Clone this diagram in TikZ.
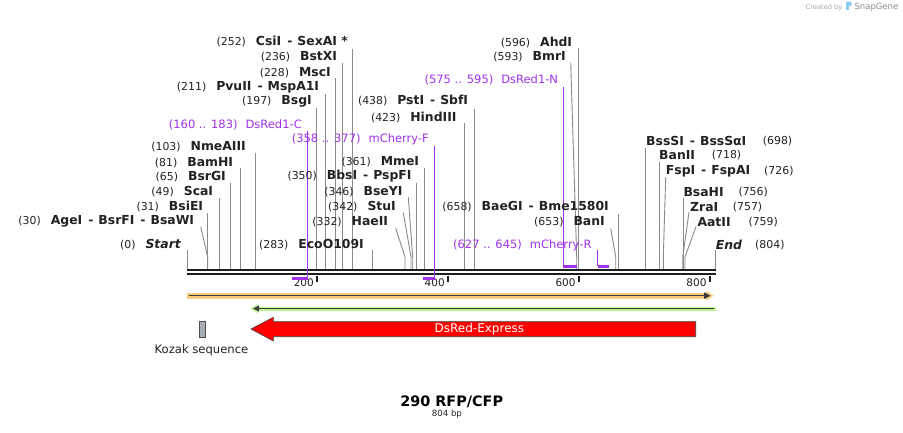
\documentclass[tikz,border=0pt]{standalone}
\usepackage{fontspec}
\setmainfont{DejaVu Sans}
\definecolor{cutgray}{HTML}{8A8A8A}
\definecolor{primc}{RGB}{160,50,235}
\definecolor{numc}{HTML}{222222}
\definecolor{rulerc}{HTML}{1E1E1E}
\definecolor{orangeb}{HTML}{F9CC80}
\definecolor{greenb}{HTML}{BEF28C}
\definecolor{darkln}{HTML}{3C3C3C}
\definecolor{kozakc}{HTML}{A9ADB5}
\definecolor{wmblue}{HTML}{8CCBF0}
\newcommand\mydsh{\hspace{6pt}-\hspace{5pt}}
\newcommand\mynum[1]{{\fontsize{10.9}{13}\selectfont #1}}
\newcommand\mynm[1]{{\fontsize{12.4}{14}\selectfont\bfseries #1}}
\newcommand\mysite[5]{\node[lab, anchor=east] (#1) at (#2,#3) {\mynum{#4}\hspace{10pt}\mynm{#5}};}
\newcommand\myplab[5]{\node[plab, anchor=east] (#1) at (#2,#3) {#4\hspace{8pt}#5};}
\newcommand\myrsite[6]{\node[lab, anchor=west] (#1) at (#2,#3) {\mynm{#4}};\node[lab, anchor=west] (#1n) at (#5,#3) {\mynum{#6}};}
\newcommand\myv[3]{\coordinate (#1t) at (#2,#3);\coordinate (#1b) at (#2,269.5);\draw[cut] (#1t) -- (#1b);}
\newcommand\mya[4]{\coordinate (#1t) at (#2,#3);\coordinate (#1m) at (#4,257);\coordinate (#1b) at (#4,269.5);\draw[cut] (#1t) -- (#1m) -- (#1b);}
\tikzset{
  cut/.style={draw=cutgray, line width=0.9pt},
  lab/.style={inner sep=0pt, text=numc},
  plab/.style={inner sep=0pt, text=primc, font=\fontsize{11.5}{13}\selectfont},
  primln/.style={draw=primc, line width=1pt},
  primbar/.style={draw=primc, line width=2.5pt},
  rul/.style={draw=rulerc, line width=2.3pt},
  tick/.style={draw=rulerc, line width=2pt},
  ticklab/.style={inner sep=0pt, text=numc, font=\fontsize{10.5}{12}\selectfont, anchor=east},
}
\begin{document}
\begin{tikzpicture}[x=1pt,y=-1pt]
\useasboundingbox (0,0) rectangle (903,432);
\fill[white] (0,0) rectangle (903,432);

% watermark
\node[inner sep=0pt, anchor=west, text=black!35, font=\fontsize{6.6}{8}\selectfont] (wm1) at (805.7,7.3) {Created by};
\fill[wmblue, rounded corners=1pt] (846,1.7) rectangle (851.7,6) ;
\fill[wmblue] (846,1.7) rectangle (849,10);
\node[inner sep=0pt, anchor=west, text=black!45, font=\fontsize{8.5}{10}\selectfont] (wm2) at (854.3,7.3) {SnapGene};

% cut-site lines
\myv{st}{187.7}{250}
\myv{bsie}{207.7}{213}
\myv{sca}{219.3}{198}
\myv{bsrg}{230.7}{182.7}
\myv{bam}{240.7}{168.3}
\myv{nme}{255.7}{152.7}
\myv{bsg}{316}{108.3}
\myv{pvu}{325}{94.3}
\myv{msc}{335.5}{77.7}
\myv{bstx}{342.3}{63.3}
\myv{csi}{352.3}{49}
\myv{eco}{372.3}{250}
\myv{bbs}{416.7}{182.7}
\myv{mme}{424.3}{168.3}
\myv{hind}{464.3}{123.3}
\myv{pst}{474.3}{109}
\myv{ahd}{578.3}{48.3}
\myv{bae}{618.3}{214}
\myv{bss}{645.7}{148.3}
\myv{banii}{659}{161.7}
\myv{bsah}{683.3}{198.3}
\myv{en}{715.7}{250}
\mya{age}{200.7}{226.7}{207.7}
\mya{hae}{395.7}{228.3}{405}
\mya{stu}{403.3}{212.7}{411}
\mya{bsey}{408.3}{197.3}{412.7}
\mya{bmr}{570.7}{62.3}{576.7}
\mya{bani}{610.7}{228.3}{615.7}
\mya{fsp}{665.7}{177.3}{663.3}
\mya{zra}{689}{212.3}{682.7}
\mya{aat}{696}{226.7}{685}

% ruler
\coordinate (r1a) at (187.3,270.2); \coordinate (r1b) at (715.7,270.2);
\coordinate (r2a) at (187.3,274.2); \coordinate (r2b) at (715.7,274.2);
\draw[rul] (r1a) -- (r1b);
\draw[rul] (r2a) -- (r2b);
\foreach \xx/\lbl in {317.3/200, 448.2/400, 579.1/600, 710/800} {
  \draw[tick] (\xx,275.7) -- (\xx,281.7);
  \node[ticklab] at (\xx-3.3,282.5) {\lbl};
}

% primers
\coordinate (dsct) at (307.7,131); \coordinate (dscb) at (307.7,278.3); \coordinate (dscs) at (292.3,278.3);
\draw[primln] (dsct) -- (dscb); \draw[primbar] (dscs) -- (dscb);
\coordinate (mcft) at (434.8,146); \coordinate (mcfb) at (434.8,278.3); \coordinate (mcfs) at (422.7,278.3);
\draw[primln] (mcft) -- (mcfb); \draw[primbar] (mcfs) -- (mcfb);
\coordinate (dsnt) at (563.3,87); \coordinate (dsnb) at (563.3,266.3); \coordinate (dsne) at (576.7,266.3);
\draw[primln] (dsnt) -- (dsnb); \draw[primbar] (dsnb) -- (dsne);
\coordinate (mcrt) at (597.7,250); \coordinate (mcrb) at (597.7,266.3); \coordinate (mcre) at (609,266.3);
\draw[primln] (mcrt) -- (mcrb); \draw[primbar] (mcrb) -- (mcre);

% labels left / middle
\mysite{csi}{348}{42}{(252)}{CsiI\mydsh SexAI *}
\mysite{bstx}{337.3}{56.7}{(236)}{BstXI}
\mysite{msc}{331}{72.3}{(228)}{MscI}
\mysite{pvu}{319.3}{87.3}{(211)}{PvuII\mydsh MspA1I}
\mysite{bsg}{312}{101.7}{(197)}{BsgI}
\mysite{nme}{246}{146.7}{(103)}{NmeAIII}
\mysite{bam}{233.3}{162.3}{(81)}{BamHI}
\mysite{bsrg}{226}{176.7}{(65)}{BsrGI}
\mysite{sca}{213.3}{191.7}{(49)}{ScaI}
\mysite{bsie}{203.3}{206.7}{(31)}{BsiEI}
\mysite{age}{194.3}{221.7}{(30)}{AgeI\mydsh BsrFI\mydsh BsaWI}
\mysite{st}{181}{245}{(0)}{\itshape Start}
\mysite{mme}{419.3}{161.7}{(361)}{MmeI}
\mysite{bbs}{411.7}{176}{(350)}{BbsI\mydsh PspFI}
\mysite{bsey}{402.7}{191.7}{(346)}{BseYI}
\mysite{stu}{396}{206.7}{(342)}{StuI}
\mysite{hae}{388.3}{221.7}{(332)}{HaeII}
\mysite{eco}{364}{245}{(283)}{EcoO109I}
\mysite{pst}{468.3}{101}{(438)}{PstI\mydsh SbfI}
\mysite{hind}{456.7}{117.3}{(423)}{HindIII}
\mysite{ahd}{572.3}{42.3}{(596)}{AhdI}
\mysite{bmr}{566}{56.7}{(593)}{BmrI}
\mysite{bae}{609}{206.7}{(658)}{BaeGI\mydsh Bme1580I}
\mysite{bani}{605}{221.7}{(653)}{BanI}

% primer labels
\myplab{dsc}{302}{125}{(160 .. 183)}{DsRed1-C}
\myplab{mcf}{429}{139.3}{(358 .. 377)}{mCherry-F}
\myplab{dsn}{558.3}{80}{(575 .. 595)}{DsRed1-N}
\myplab{mcr}{591.7}{245}{(627 .. 645)}{mCherry-R}

% labels right
\myrsite{bss}{646}{140.7}{BssSI\mydsh BssSαI}{762.7}{(698)}
\myrsite{banii}{659}{155}{BanII}{711.7}{(718)}
\myrsite{fsp}{665.7}{171}{FspI\mydsh FspAI}{764}{(726)}
\myrsite{bsah}{683.3}{191.7}{BsaHI}{738.3}{(756)}
\myrsite{zra}{690}{207.3}{ZraI}{732.7}{(757)}
\myrsite{aat}{697.3}{221.7}{AatII}{748.3}{(759)}
\myrsite{en}{715.7}{245}{\itshape End}{755}{(804)}

% orange feature (forward)
\fill[orangeb] (187.3,292.7) rectangle (708,298.7);
\fill[orangeb] (706,290.8) -- (713.8,295.7) -- (706,300.6) -- cycle;
\coordinate (ora) at (188.5,295.7); \coordinate (orb) at (705,295.7);
\draw[darkln, line width=1.4pt] (ora) -- (orb);
\fill[darkln] (704,292.3) -- (710.5,295.7) -- (704,299.1) -- cycle;

% green feature (reverse)
\fill[greenb] (256,306.7) rectangle (715.5,310.7);
\fill[greenb] (257.5,304.2) -- (250.7,308.7) -- (257.5,313.2) -- cycle;
\coordinate (gra) at (258,308.5); \coordinate (grb) at (714,308.5);
\draw[darkln, line width=1.4pt] (gra) -- (grb);
\fill[darkln] (259,305.3) -- (253.2,308.5) -- (259,311.7) -- cycle;

% DsRed-Express arrow
\draw[fill=red, draw=black!75, line width=0.6pt] (251,329) -- (273.3,317.3) -- (273.3,321.7) -- (695.7,321.7) -- (695.7,336.7) -- (273.3,336.7) -- (273.3,341) -- cycle;
\node[inner sep=0pt, text=white, font=\fontsize{12}{14}\selectfont] (dsx) at (479.4,329) {DsRed-Express};

% Kozak
\draw[fill=kozakc, draw=black!70, line width=0.6pt] (199,321) rectangle (205.7,337.3);
\node[inner sep=0pt, text=numc, font=\fontsize{11.6}{14}\selectfont] (koz) at (201.5,350.7) {Kozak sequence};

% title
\node[inner sep=0pt, text=black, font=\fontsize{14.4}{17}\selectfont\bfseries] (ttl) at (451.7,401.7) {290 RFP/CFP};
\node[inner sep=0pt, text=numc, font=\fontsize{8.6}{10}\selectfont] (bp) at (446.9,414.3) {804 bp};
\end{tikzpicture}
\end{document}
